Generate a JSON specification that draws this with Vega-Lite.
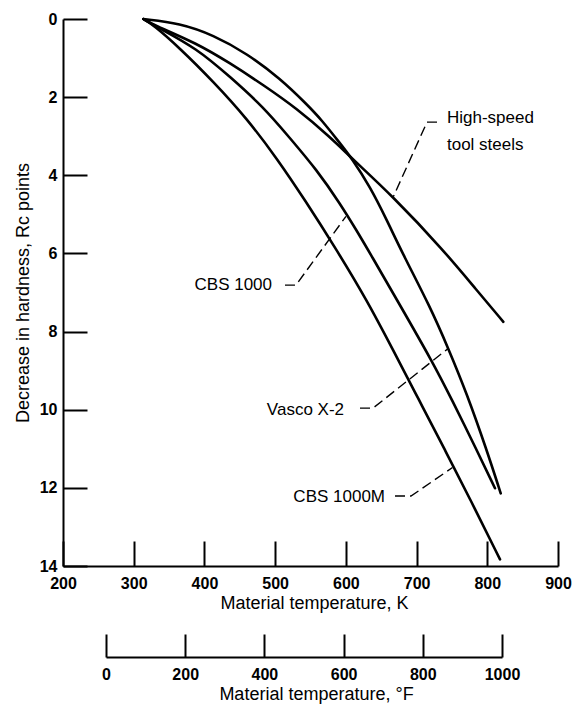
{
  "$schema": "https://vega.github.io/schema/vega-lite/v6.json",
  "width": 495,
  "height": 547,
  "autosize": {"type": "none"},
  "padding": {"left": 63, "top": 19, "right": 24, "bottom": 143},
  "background": "white",
  "config": {
    "view": {"stroke": null},
    "font": "Liberation Sans",
    "axis": {
      "domainColor": "black", "domainWidth": 2, "tickColor": "black", "tickWidth": 2,
      "labelColor": "black", "titleColor": "black", "grid": false, "labelFlush": false,
      "labelFont": "Liberation Sans", "labelFontWeight": "bold", "labelFontSize": 16,
      "titleFont": "Liberation Sans", "titleFontWeight": "normal", "titleFontSize": 18
    }
  },
  "datasets": {
    "curves": [
      {"series": "Vasco X-2", "K": 313.6, "Rc": 0},
      {"series": "Vasco X-2", "K": 365.5, "Rc": 0.11},
      {"series": "Vasco X-2", "K": 412.5, "Rc": 0.41},
      {"series": "Vasco X-2", "K": 459.8, "Rc": 0.88},
      {"series": "Vasco X-2", "K": 506.9, "Rc": 1.52},
      {"series": "Vasco X-2", "K": 544.6, "Rc": 2.18},
      {"series": "Vasco X-2", "K": 565.8, "Rc": 2.585},
      {"series": "Vasco X-2", "K": 591.7, "Rc": 3.18},
      {"series": "Vasco X-2", "K": 608.3, "Rc": 3.565},
      {"series": "Vasco X-2", "K": 634.1, "Rc": 4.29},
      {"series": "Vasco X-2", "K": 657.8, "Rc": 5.14},
      {"series": "Vasco X-2", "K": 681.2, "Rc": 6.04},
      {"series": "Vasco X-2", "K": 719.0, "Rc": 7.36},
      {"series": "Vasco X-2", "K": 744.9, "Rc": 8.43},
      {"series": "Vasco X-2", "K": 770.9, "Rc": 9.58},
      {"series": "Vasco X-2", "K": 799.2, "Rc": 11.03},
      {"series": "Vasco X-2", "K": 819.0, "Rc": 12.14},
      {"series": "High-speed tool steels", "K": 313.6, "Rc": 0},
      {"series": "High-speed tool steels", "K": 327.7, "Rc": 0.15},
      {"series": "High-speed tool steels", "K": 389.1, "Rc": 0.62},
      {"series": "High-speed tool steels", "K": 436.2, "Rc": 1.13},
      {"series": "High-speed tool steels", "K": 483.3, "Rc": 1.69},
      {"series": "High-speed tool steels", "K": 530.5, "Rc": 2.29},
      {"series": "High-speed tool steels", "K": 577.6, "Rc": 3.02},
      {"series": "High-speed tool steels", "K": 608.3, "Rc": 3.565},
      {"series": "High-speed tool steels", "K": 667.1, "Rc": 4.55},
      {"series": "High-speed tool steels", "K": 737.8, "Rc": 5.91},
      {"series": "High-speed tool steels", "K": 785.0, "Rc": 6.94},
      {"series": "High-speed tool steels", "K": 822.7, "Rc": 7.75},
      {"series": "CBS 1000", "K": 313.6, "Rc": 0},
      {"series": "CBS 1000", "K": 332.5, "Rc": 0.2},
      {"series": "CBS 1000", "K": 389.1, "Rc": 0.75},
      {"series": "CBS 1000", "K": 436.2, "Rc": 1.48},
      {"series": "CBS 1000", "K": 483.3, "Rc": 2.25},
      {"series": "CBS 1000", "K": 521.0, "Rc": 3.05},
      {"series": "CBS 1000", "K": 558.8, "Rc": 3.86},
      {"series": "CBS 1000", "K": 591.7, "Rc": 4.72},
      {"series": "CBS 1000", "K": 615.8, "Rc": 5.43},
      {"series": "CBS 1000", "K": 635.6, "Rc": 6.04},
      {"series": "CBS 1000", "K": 672.3, "Rc": 7.19},
      {"series": "CBS 1000", "K": 723.7, "Rc": 8.81},
      {"series": "CBS 1000", "K": 750.1, "Rc": 9.75},
      {"series": "CBS 1000", "K": 785.0, "Rc": 11.03},
      {"series": "CBS 1000", "K": 810.9, "Rc": 12.01},
      {"series": "CBS 1000M", "K": 313.6, "Rc": 0},
      {"series": "CBS 1000M", "K": 327.7, "Rc": 0.15},
      {"series": "CBS 1000M", "K": 365.5, "Rc": 0.75},
      {"series": "CBS 1000M", "K": 412.5, "Rc": 1.6},
      {"series": "CBS 1000M", "K": 459.8, "Rc": 2.54},
      {"series": "CBS 1000M", "K": 502.6, "Rc": 3.57},
      {"series": "CBS 1000M", "K": 542.0, "Rc": 4.63},
      {"series": "CBS 1000M", "K": 587.0, "Rc": 5.91},
      {"series": "CBS 1000M", "K": 629.5, "Rc": 7.19},
      {"series": "CBS 1000M", "K": 666.7, "Rc": 8.47},
      {"series": "CBS 1000M", "K": 703.4, "Rc": 9.75},
      {"series": "CBS 1000M", "K": 740.2, "Rc": 11.03},
      {"series": "CBS 1000M", "K": 776.3, "Rc": 12.31},
      {"series": "CBS 1000M", "K": 818.0, "Rc": 13.83}
    ],
    "leaders": [
      {"leader": "CBS 1000", "ord": 1, "K": 513.9, "Rc": 6.81},
      {"leader": "CBS 1000", "ord": 2, "K": 529.5, "Rc": 6.81},
      {"leader": "CBS 1000", "ord": 3, "K": 600.2, "Rc": 5.05},
      {"leader": "High-speed tool steels", "ord": 1, "K": 728.9, "Rc": 2.64},
      {"leader": "High-speed tool steels", "ord": 2, "K": 714.7, "Rc": 2.64},
      {"leader": "High-speed tool steels", "ord": 3, "K": 667.1, "Rc": 4.55},
      {"leader": "Vasco X-2", "ord": 1, "K": 620.0, "Rc": 9.96},
      {"leader": "Vasco X-2", "ord": 2, "K": 638.4, "Rc": 9.96},
      {"leader": "Vasco X-2", "ord": 3, "K": 744.9, "Rc": 8.43},
      {"leader": "CBS 1000M", "ord": 1, "K": 669.5, "Rc": 12.21},
      {"leader": "CBS 1000M", "ord": 2, "K": 692.1, "Rc": 12.21},
      {"leader": "CBS 1000M", "ord": 3, "K": 750.8, "Rc": 11.48}
    ],
    "labelsRight": [
      {"label": "CBS 1000", "K": 495.6, "Rc": 6.81},
      {"label": "Vasco X-2", "K": 597.4, "Rc": 10.0},
      {"label": "CBS 1000M", "K": 655.4, "Rc": 12.23}
    ],
    "labelsLeft": [
      {"label": "High-speed", "K": 743.0, "Rc": 2.53},
      {"label": "tool steels", "K": 743.0, "Rc": 3.22}
    ],
    "fahrenheit": [
      {"F": 0},
      {"F": 1000}
    ]
  },
  "layer": [
    {
      "layer": [
        {
          "data": {"name": "curves"},
          "mark": {"type": "line", "interpolate": "basis", "stroke": "black", "strokeWidth": 2.6, "strokeCap": "round"},
          "encoding": {
            "x": {
              "field": "K", "type": "quantitative",
              "scale": {"domain": [200, 900], "nice": false, "zero": false},
              "axis": {
                "values": [200, 300, 400, 500, 600, 700, 800, 900],
                "tickSize": -25, "labelPadding": 34,
                "title": "Material temperature,  K",
                "titleBaseline": "middle", "titleY": 37, "titleX": 251
              }
            },
            "y": {
              "field": "Rc", "type": "quantitative",
              "scale": {"domain": [0, 14], "reverse": true, "nice": false, "zero": false},
              "axis": {
                "values": [0, 2, 4, 6, 8, 10, 12, 14],
                "tickSize": -24, "labelPadding": 30,
                "title": "Decrease in hardness, Rc points",
                "titleBaseline": "middle", "titleX": -40, "titleY": 273.5
              }
            },
            "detail": {"field": "series"}
          }
        },
        {
          "data": {"name": "leaders"},
          "mark": {"type": "line", "stroke": "black", "strokeWidth": 1.4, "strokeDash": [10, 5]},
          "encoding": {
            "x": {"field": "K", "type": "quantitative"},
            "y": {"field": "Rc", "type": "quantitative"},
            "detail": {"field": "leader"},
            "order": {"field": "ord"}
          }
        },
        {
          "data": {"name": "labelsRight"},
          "mark": {"type": "text", "align": "right", "baseline": "middle", "fontSize": 17, "font": "Liberation Sans", "color": "black"},
          "encoding": {
            "x": {"field": "K", "type": "quantitative"},
            "y": {"field": "Rc", "type": "quantitative"},
            "text": {"field": "label"}
          }
        },
        {
          "data": {"name": "labelsLeft"},
          "mark": {"type": "text", "align": "left", "baseline": "middle", "fontSize": 17, "font": "Liberation Sans", "color": "black"},
          "encoding": {
            "x": {"field": "K", "type": "quantitative"},
            "y": {"field": "Rc", "type": "quantitative"},
            "text": {"field": "label"}
          }
        }
      ]
    },
    {
      "data": {"name": "fahrenheit"},
      "mark": {"type": "point", "opacity": 0},
      "encoding": {
        "x": {
          "field": "F", "type": "quantitative",
          "scale": {"domain": [0, 1000], "range": [43, 439], "nice": false, "zero": false},
          "axis": {
            "orient": "bottom", "offset": 91, "format": "d",
            "values": [0, 200, 400, 600, 800, 1000],
            "tickSize": -23, "labelPadding": 32,
            "title": "Material temperature, °F",
            "titleBaseline": "middle", "titleY": 37, "titleX": 253
          }
        }
      }
    }
  ],
  "resolve": {"scale": {"x": "independent"}}
}
